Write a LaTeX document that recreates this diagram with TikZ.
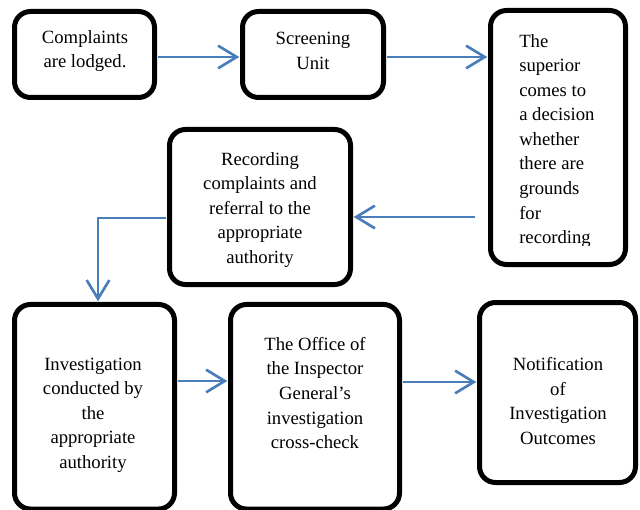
\documentclass[tikz,border=0pt]{standalone}
\usepackage{fontspec}
\setmainfont{Liberation Serif}
\newfontfamily\tnrfont{Liberation Serif}
\usetikzlibrary{arrows.meta}
\definecolor{flowblue}{RGB}{74,126,187}
\begin{document}
\begin{tikzpicture}[x=0.75pt,y=-0.75pt,
  box/.style={draw=black,line width=3.75pt,rounded corners=12pt,rectangle,inner sep=0pt,fill=white},
  txt/.style={font=\tnrfont\fontsize{14}{18.4}\selectfont,align=center,inner sep=0pt},
  conn/.style={draw=flowblue,line width=2pt,-{Straight Barb[length=14pt,width=17pt,line width=2pt]},shorten <=1pt,shorten >=0.5pt}]
\useasboundingbox (0,0) rectangle (640,510);
\fill[white] (0,0) rectangle (640,510);
% boxes
\node[box,minimum width=105pt,minimum height=64.5pt] (b1) at (84.5,54.5) {};
\node[box,minimum width=105.75pt,minimum height=64.5pt] (b2) at (313,54.5) {};
\node[box,minimum width=101.25pt,minimum height=190.5pt] (b3) at (558,137.5) {};
\node[box,minimum width=135.75pt,minimum height=116.25pt] (b4) at (260,207) {};
\node[box,minimum width=120pt,minimum height=153.4pt] (b5) at (94.5,406.75) {};
\node[box,minimum width=126.75pt,minimum height=153.4pt] (b6) at (315,406.75) {};
\node[box,minimum width=117pt,minimum height=135pt] (b7) at (557.5,392.5) {};
% texts
\node[txt] (t1) at (85,51) {Complaints\\are lodged.};
\node[txt] (t2) at (313,51) {Screening\\Unit};
\begin{scope}
\clip (490,12) rectangle (626,245);
\node[txt,align=left,anchor=west] (t3) at (519,141) {The\\superior\\comes to\\a decision\\whether\\there are\\grounds\\for\\recording};
\end{scope}
\node[txt] (t4) at (260,210) {Recording\\complaints and\\referral to the\\appropriate\\authority};
\node[txt] (t5) at (93,415) {Investigation\\conducted by\\the\\appropriate\\authority};
\node[txt] (t6) at (315,393) {The Office of\\the Inspector\\General’s\\investigation\\cross-check};
\node[txt] (t7) at (558,401) {Notification\\of\\Investigation\\Outcomes};
% level coordinates
\coordinate (y1) at (0,57);
\coordinate (y3) at (0,217);
\coordinate (y4) at (98,218);
\coordinate (y5) at (0,381);
\coordinate (y6) at (0,382);
% connectors
\draw[conn] (b1.east |- y1) -- (b2.west |- y1);
\draw[conn] (b2.east |- y1) -- (b3.west |- y1);
\draw[conn,shorten <=9.4pt] (b3.west |- y3) -- (b4.east |- y3);
\draw[conn] (b4.west |- y4) -| (y4 |- b5.north);
\draw[conn] (b5.east |- y5) -- (b6.west |- y5);
\draw[conn] (b6.east |- y6) -- (b7.west |- y6);
\end{tikzpicture}
\end{document}
